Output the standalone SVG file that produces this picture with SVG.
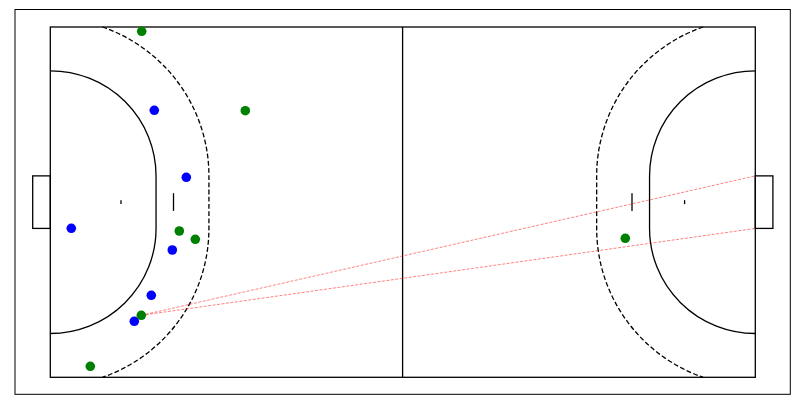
<svg xmlns="http://www.w3.org/2000/svg" width="799" height="409" viewBox="0 0 799 409">
<style>
.line{fill:none;stroke:#000;stroke-width:1.3}
.dash{fill:none;stroke:#000;stroke-width:1.3;stroke-dasharray:4.8,2.4}
.shot{fill:none;stroke:#ff0000;stroke-opacity:0.55;stroke-width:0.9;stroke-dasharray:3,1.5}
.blue{fill:#0000ff}
.green{fill:#008000}
</style>
<rect width="799" height="409" fill="#fff"/>
<rect id="frame" x="15" y="9.5" width="775.3" height="384.8" fill="none" stroke="#000" stroke-width="1"/>
<g id="court">
<rect x="50.3" y="27" width="705" height="350.3" class="line"/>
<line x1="402.6" y1="27" x2="402.6" y2="377.3" class="line"/>
<rect x="32.7" y="175.88" width="17.6" height="52.54" class="line"/>
<rect x="755.3" y="175.88" width="17.6" height="52.54" class="line"/>
<path class="line" d="M50.3,70.79 A105.75,105.09 0 0 1 156.05,175.88 L156.05,228.42 A105.75,105.09 0 0 1 50.3,333.51"/>
<path class="line" d="M755.3,70.79 A105.75,105.09 0 0 0 649.55,175.88 L649.55,228.42 A105.75,105.09 0 0 0 755.3,333.51"/>
<path class="dash" d="M102.46,27 A158.63,157.64 0 0 1 208.93,175.88 L208.93,228.42 A158.63,157.64 0 0 1 102.46,377.3"/>
<path class="dash" d="M703.14,27 A158.63,157.64 0 0 0 596.67,175.88 L596.67,228.42 A158.63,157.64 0 0 0 703.14,377.3"/>
<line x1="173.5" y1="193.2" x2="173.5" y2="210.9" class="line"/>
<line x1="632" y1="193.2" x2="632" y2="210.9" class="line"/>
<line x1="121" y1="200.2" x2="121" y2="204.1" class="line"/>
<line x1="684.6" y1="200.2" x2="684.6" y2="204.1" class="line"/>
</g>
<g id="connectors">
<line class="shot" x1="141.3" y1="315.3" x2="755.3" y2="175.88"/>
<line class="shot" x1="141.3" y1="315.3" x2="755.3" y2="228.42"/>
</g>
<g id="players">
<circle id="b1" class="blue" cx="154.3" cy="110.3" r="4.8"/>
<circle id="b2" class="blue" cx="186.3" cy="177.3" r="4.8"/>
<circle id="b3" class="blue" cx="71.3" cy="228.3" r="4.8"/>
<circle id="b4" class="blue" cx="172.3" cy="250" r="4.8"/>
<circle id="b5" class="blue" cx="151.3" cy="295.3" r="4.8"/>
<circle id="b6" class="blue" cx="134.3" cy="321.3" r="4.8"/>
<circle id="g1" class="green" cx="141.7" cy="31.3" r="4.8"/>
<circle id="g2" class="green" cx="245.3" cy="110.7" r="4.8"/>
<circle id="g3" class="green" cx="179.3" cy="231" r="4.8"/>
<circle id="g4" class="green" cx="195.3" cy="239.3" r="4.8"/>
<circle id="g5" class="green" cx="141.3" cy="315.3" r="4.8"/>
<circle id="g6" class="green" cx="90.3" cy="366.3" r="4.8"/>
<circle id="g7" class="green" cx="625.3" cy="238.3" r="4.8"/>
</g>
</svg>
